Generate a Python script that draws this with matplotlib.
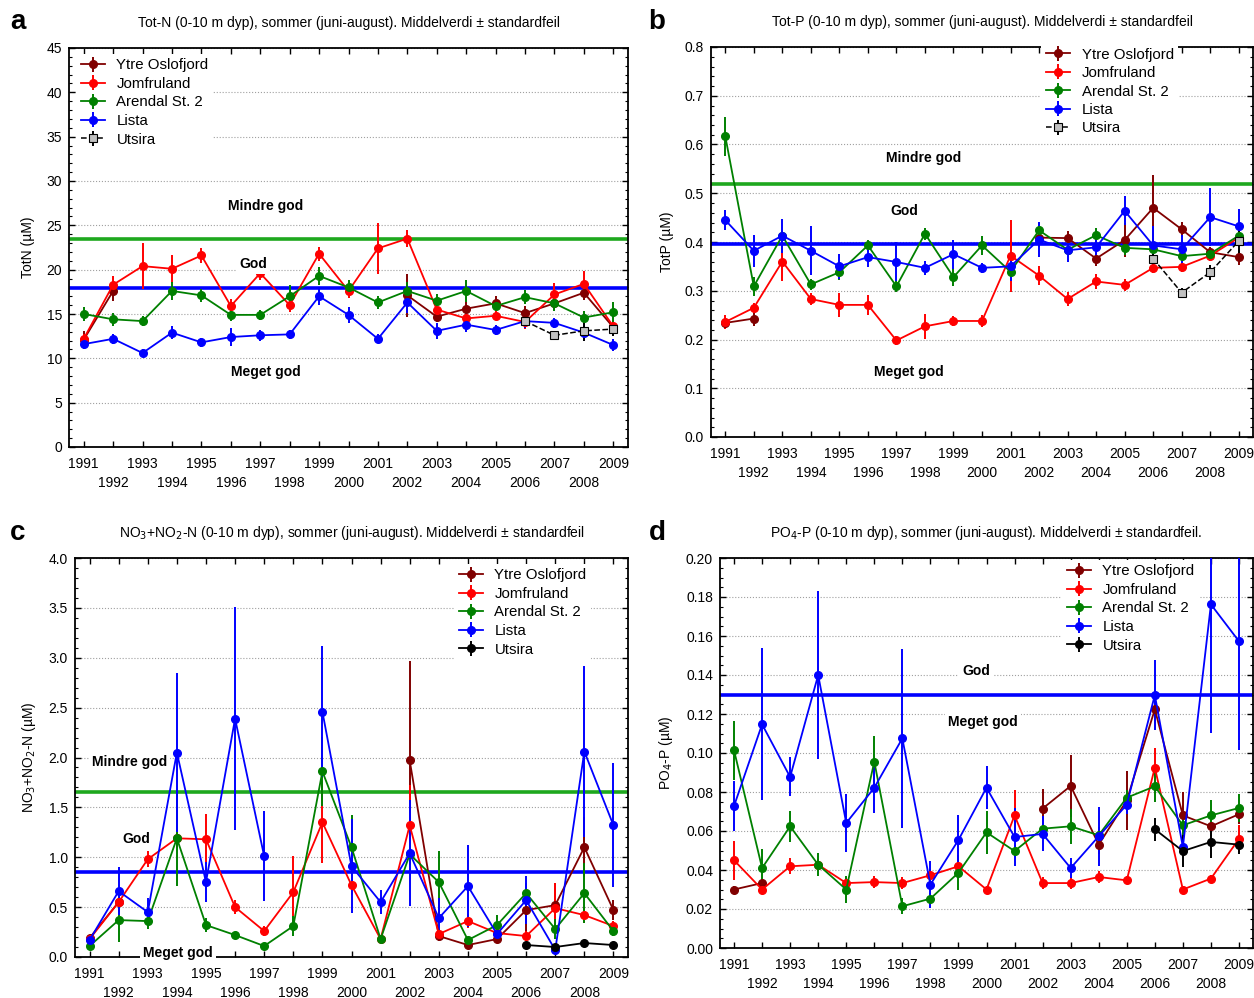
import numpy as np
import matplotlib
matplotlib.use('Agg')
import matplotlib.pyplot as plt
from matplotlib.ticker import MultipleLocator, FuncFormatter

plt.rcParams['font.family'] = ['Liberation Sans', 'DejaVu Sans']

n = np.nan
years = list(range(1991, 2010))
stations = ['Ytre Oslofjord', 'Jomfruland', 'Arendal St. 2', 'Lista', 'Utsira']

# --- a: Tot-N ---
totn_ytre = [12.1, 17.6, n, n, n, n, n, n, n, n, n, 17.1, 14.7, 15.6, 16.2, 15.1, 16.2, 17.4, 13.5]
totn_ytre_se = [1.0, 1.1, n, n, n, n, n, n, n, n, n, 2.4, 0.6, 0.7, 0.8, 0.8, 0.8, 0.8, 0.8]
totn_jomf = [12.2, 18.3, 20.4, 20.1, 21.6, 15.9, 19.6, 16.0, 21.8, 17.6, 22.4, 23.5, 15.5, 14.5, 14.8, 14.1, 17.2, 18.4, 13.6]
totn_jomf_se = [0.5, 1.0, 2.6, 1.6, 0.8, 0.8, 0.8, 0.8, 0.8, 0.8, 2.9, 1.0, 0.8, 0.6, 0.5, 0.8, 1.3, 1.4, 0.6]
totn_aren = [15.0, 14.4, 14.2, 17.6, 17.1, 14.9, 14.9, 17.0, 19.3, 18.0, 16.3, 17.6, 16.5, 17.6, 15.9, 16.9, 16.2, 14.6, 15.2]
totn_aren_se = [0.8, 0.7, 0.6, 1.0, 0.7, 0.7, 0.6, 1.3, 1.0, 0.8, 0.7, 1.0, 0.8, 1.2, 0.6, 0.8, 0.9, 0.7, 1.1]
totn_lista = [11.6, 12.2, 10.6, 12.9, 11.8, 12.4, 12.6, 12.7, 17.0, 14.9, 12.2, 16.3, 13.1, 13.8, 13.2, 14.2, 14.0, 12.9, 11.5]
totn_lista_se = [0.6, 0.6, 0.4, 0.7, 0.5, 1.0, 0.6, 0.5, 1.0, 0.9, 0.5, 1.2, 0.9, 0.8, 0.6, 0.8, 0.6, 1.0, 0.7]
totn_utsira = [n] * 15 + [14.2, 12.6, 13.1, 13.3]
totn_utsira_se = [n] * 15 + [0.5, 0.3, 1.1, 0.8]

# --- b: Tot-P ---
totp_ytre = [0.234, 0.243, n, n, n, n, n, n, n, n, n, 0.409, 0.408, 0.366, 0.404, 0.470, 0.426, 0.379, 0.369]
totp_ytre_se = [0.01, 0.015, n, n, n, n, n, n, n, n, n, 0.02, 0.015, 0.015, 0.035, 0.067, 0.016, 0.01, 0.016]
totp_jomf = [0.236, 0.265, 0.360, 0.283, 0.271, 0.271, 0.198, 0.227, 0.238, 0.238, 0.372, 0.331, 0.283, 0.319, 0.312, 0.347, 0.349, 0.372, 0.409]
totp_jomf_se = [0.015, 0.01, 0.04, 0.012, 0.025, 0.02, 0.01, 0.025, 0.01, 0.012, 0.074, 0.02, 0.015, 0.015, 0.012, 0.01, 0.01, 0.01, 0.01]
totp_aren = [0.617, 0.309, 0.413, 0.313, 0.338, 0.393, 0.309, 0.417, 0.328, 0.393, 0.339, 0.424, 0.384, 0.414, 0.388, 0.385, 0.371, 0.376, 0.413]
totp_aren_se = [0.04, 0.02, 0.01, 0.012, 0.015, 0.012, 0.012, 0.012, 0.018, 0.02, 0.01, 0.015, 0.01, 0.015, 0.015, 0.01, 0.01, 0.01, 0.012]
totp_lista = [0.445, 0.382, 0.413, 0.382, 0.350, 0.369, 0.359, 0.347, 0.375, 0.347, 0.350, 0.405, 0.383, 0.389, 0.464, 0.393, 0.385, 0.451, 0.432]
totp_lista_se = [0.02, 0.033, 0.035, 0.05, 0.025, 0.02, 0.04, 0.015, 0.03, 0.01, 0.03, 0.035, 0.025, 0.02, 0.03, 0.04, 0.03, 0.06, 0.035]
totp_utsira = [n] * 15 + [0.366, 0.296, 0.338, 0.402]
totp_utsira_se = [n] * 15 + [0.01, 0.01, 0.015, 0.03]

# --- c: NO3+NO2-N ---
no3_ytre = [0.19, 0.55, n, n, n, n, n, n, n, n, n, 1.97, 0.21, 0.12, 0.18, 0.47, 0.52, 1.10, 0.47]
no3_ytre_se = [0.02, 0.05, n, n, n, n, n, n, n, n, n, 1.0, 0.05, 0.02, 0.04, 0.25, 0.22, 0.3, 0.1]
no3_jomf = [0.18, 0.55, 0.98, 1.19, 1.18, 0.50, 0.26, 0.65, 1.35, 0.72, 0.18, 1.32, 0.23, 0.36, 0.24, 0.21, 0.49, 0.42, 0.31]
no3_jomf_se = [0.03, 0.1, 0.08, 0.1, 0.25, 0.07, 0.05, 0.36, 0.41, 0.1, 0.03, 0.4, 0.05, 0.07, 0.03, 0.05, 0.25, 0.08, 0.05]
no3_aren = [0.11, 0.37, 0.36, 1.19, 0.32, 0.22, 0.11, 0.31, 1.86, 1.10, 0.18, 1.03, 0.75, 0.17, 0.32, 0.64, 0.28, 0.64, 0.26]
no3_aren_se = [0.03, 0.22, 0.08, 0.48, 0.07, 0.03, 0.03, 0.1, 0.35, 0.32, 0.03, 0.1, 0.31, 0.03, 0.1, 0.1, 0.1, 0.3, 0.05]
no3_lista = [0.17, 0.66, 0.45, 2.05, 0.75, 2.39, 1.01, n, 2.46, 0.91, 0.55, 1.04, 0.39, 0.71, 0.23, 0.57, 0.07, 2.06, 1.32]
no3_lista_se = [0.04, 0.24, 0.14, 0.8, 0.2, 1.12, 0.45, n, 0.66, 0.47, 0.12, 0.53, 0.2, 0.41, 0.05, 0.24, 0.03, 0.86, 0.62]
no3_utsira = [n] * 15 + [0.12, 0.10, 0.14, 0.12]
no3_utsira_se = [n] * 15 + [0.02, 0.03, 0.02, 0.02]

# --- d: PO4-P ---
po4_ytre = [0.030, 0.0333, n, n, n, n, n, n, n, n, n, 0.0715, 0.0831, 0.053, 0.0757, 0.1224, 0.068, 0.0624, 0.0686]
po4_ytre_se = [0.002, 0.002, n, n, n, n, n, n, n, n, n, 0.01, 0.016, 0.005, 0.015, 0.01, 0.012, 0.005, 0.005]
po4_jomf = [0.045, 0.030, 0.0419, 0.0427, 0.0333, 0.0338, 0.0333, 0.0373, 0.0419, 0.030, 0.068, 0.0333, 0.0333, 0.0364, 0.0347, 0.0925, 0.030, 0.0356, 0.056]
po4_jomf_se = [0.01, 0.002, 0.004, 0.003, 0.003, 0.003, 0.003, 0.003, 0.005, 0.002, 0.013, 0.003, 0.003, 0.003, 0.002, 0.01, 0.002, 0.002, 0.007]
po4_aren = [0.1014, 0.041, 0.0624, 0.0427, 0.030, 0.0956, 0.0214, 0.0253, 0.0386, 0.0593, 0.0497, 0.0612, 0.0624, 0.0578, 0.0771, 0.0829, 0.0629, 0.068, 0.0718]
po4_aren_se = [0.015, 0.01, 0.008, 0.006, 0.007, 0.013, 0.004, 0.003, 0.009, 0.011, 0.003, 0.004, 0.009, 0.004, 0.004, 0.008, 0.006, 0.008, 0.007]
po4_lista = [0.0728, 0.1147, 0.0877, 0.140, 0.0641, 0.0822, 0.1075, 0.0325, 0.0554, 0.0822, 0.0569, 0.0585, 0.041, 0.0573, 0.0735, 0.1297, 0.0518, 0.1762, 0.1573]
po4_lista_se = [0.013, 0.039, 0.01, 0.043, 0.015, 0.013, 0.046, 0.012, 0.013, 0.011, 0.015, 0.009, 0.005, 0.015, 0.005, 0.018, 0.003, 0.066, 0.056]
po4_utsira = [n] * 15 + [0.0609, 0.0497, 0.0544, 0.053]
po4_utsira_se = [n] * 15 + [0.006, 0.008, 0.008, 0.005]

colors = ['#800000', '#ff0000', '#008000', '#0000ff', '#000000']
green_line = '#1ea81e'
blue_line = '#0000ff'

W, H = 1254, 998
fig = plt.figure(figsize=(W / 100, H / 100), dpi=100)


def px_axes(l, t, r, b):
    return fig.add_axes([l / W, 1 - b / H, (r - l) / W, (b - t) / H])


# odd years on the first row, even years on the second row
year_labels = [str(y) if y % 2 == 1 else '\n' + str(y) for y in years]


def panel(ax, vals, errs, utsira_grey, ylim, major, minor, fmt, ylabel, title,
          lines, labels, leg_xy):
    for i, (v, e) in enumerate(zip(vals, errs)):
        if i == 4 and utsira_grey:
            ax.errorbar(years, v, yerr=e, color='k', ls='--', lw=1.1, marker='s', ms=6,
                        mfc='#c0c0c0', mec='k', mew=0.8, elinewidth=1.4, capsize=0,
                        label=stations[i], zorder=3)
        else:
            ax.errorbar(years, v, yerr=e, color=colors[i], lw=1.3, marker='o', ms=5.5,
                        elinewidth=1.4, capsize=0, label=stations[i], zorder=3)
    for val, col in lines:
        ax.axhline(val, color=col, lw=2.6, zorder=2)
    for txt, x, y in labels:
        ax.text(x, y, txt, ha='center', va='center', fontsize=10, fontweight='bold',
                bbox=dict(facecolor='white', edgecolor='none', pad=2), zorder=4,
                clip_on=False)
    ax.set_xlim(1990.5, 2009.5)
    ax.set_ylim(*ylim)
    ax.set_xticks(years, labels=year_labels, linespacing=1.45)
    ax.yaxis.set_major_locator(MultipleLocator(major))
    ax.yaxis.set_minor_locator(MultipleLocator(minor))
    ax.yaxis.set_major_formatter(FuncFormatter(lambda v, p: fmt.format(v)))
    ax.tick_params(which='both', direction='in', top=True, right=True, labelsize=10)
    ax.tick_params(which='major', length=4, width=1)
    ax.tick_params(which='minor', length=2, width=0.8)
    ax.tick_params(axis='x', pad=7)
    ax.tick_params(axis='y', pad=5)
    ax.grid(axis='y', which='major', ls=':', color='#a0a0a0', lw=0.8)
    ax.set_axisbelow(True)
    for s in ax.spines.values():
        s.set_linewidth(1.3)
    ax.set_ylabel(ylabel, fontsize=10, labelpad=8)
    ax.set_title(title, fontsize=10, pad=15)
    leg = ax.legend(loc='upper left', bbox_to_anchor=(leg_xy[0] / W, 1 - leg_xy[1] / H),
                    bbox_transform=fig.transFigure, frameon=True, fontsize=10.8,
                    borderaxespad=0, borderpad=0.3, labelspacing=0.3,
                    handlelength=1.6, handletextpad=0.8)
    leg.get_frame().set_facecolor('white')
    leg.get_frame().set_edgecolor('none')
    leg.get_frame().set_alpha(1)
    leg.set_zorder(5)


ax_a = px_axes(69, 48, 628, 447)
panel(ax_a, [totn_ytre, totn_jomf, totn_aren, totn_lista, totn_utsira],
      [totn_ytre_se, totn_jomf_se, totn_aren_se, totn_lista_se, totn_utsira_se], True,
      (0, 45), 5, 1, '{:.0f}', 'TotN (µM)',
      'Tot-N (0-10 m dyp), sommer (juni-august). Middelverdi ± standardfeil',
      [(23.5, green_line), (17.9, blue_line)],
      [('Mindre god', 1997.2, 27.2), ('God', 1996.75, 20.6), ('Meget god', 1997.2, 8.5)],
      (76, 54))

ax_b = px_axes(711, 47, 1253, 437)
panel(ax_b, [totp_ytre, totp_jomf, totp_aren, totp_lista, totp_utsira],
      [totp_ytre_se, totp_jomf_se, totp_aren_se, totp_lista_se, totp_utsira_se], True,
      (0, 0.8), 0.1, 0.02, '{:.1f}', 'TotP (µM)',
      'Tot-P (0-10 m dyp), sommer (juni-august). Middelverdi ± standardfeil',
      [(0.52, green_line), (0.395, blue_line)],
      [('Mindre god', 1997.94, 0.572), ('God', 1997.27, 0.464), ('Meget god', 1997.45, 0.133)],
      (1041, 43))

ax_c = px_axes(75, 558, 628, 957)
panel(ax_c, [no3_ytre, no3_jomf, no3_aren, no3_lista, no3_utsira],
      [no3_ytre_se, no3_jomf_se, no3_aren_se, no3_lista_se, no3_utsira_se], False,
      (0, 4.0), 0.5, 0.1, '{:.1f}', 'NO$_3$+NO$_2$-N (µM)',
      'NO$_3$+NO$_2$-N (0-10 m dyp), sommer (juni-august). Middelverdi ± standardfeil',
      [(1.65, green_line), (0.85, blue_line)],
      [('Mindre god', 1992.39, 1.955), ('God', 1992.6, 1.18), ('Meget god', 1994.04, 0.04)],
      (454, 564))

ax_d = px_axes(720, 558, 1253, 948)
panel(ax_d, [po4_ytre, po4_jomf, po4_aren, po4_lista, po4_utsira],
      [po4_ytre_se, po4_jomf_se, po4_aren_se, po4_lista_se, po4_utsira_se], False,
      (0, 0.2), 0.02, 0.005, '{:.2f}', 'PO$_4$-P (µM)',
      'PO$_4$-P (0-10 m dyp), sommer (juni-august). Middelverdi ± standardfeil.',
      [(0.13, blue_line)],
      [('God', 1999.63, 0.142), ('Meget god', 1999.88, 0.116)],
      (1062, 560))

for letter, x, y in [('a', 18, 22), ('b', 657, 22), ('c', 18, 533), ('d', 657, 533)]:
    fig.text(x / W, 1 - y / H, letter, fontsize=20, fontweight='bold', ha='center', va='center')

fig.savefig('out.png', dpi=100)
